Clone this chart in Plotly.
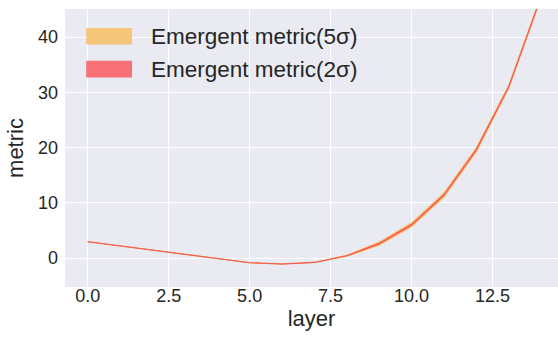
import plotly.graph_objects as go

layers = [0, 1, 2, 3, 4, 5, 6, 7, 8, 9, 10, 11, 12, 13, 14]
metric_mean = [2.95, 2.2, 1.45, 0.7, -0.1, -0.85, -1.1, -0.8, 0.4, 2.6, 6.0, 11.4, 19.6, 31.0, 47.3]
metric_sigma = [0.01, 0.01, 0.01, 0.01, 0.01, 0.01, 0.01, 0.01, 0.03, 0.07, 0.09, 0.1, 0.1, 0.08, 0.08]
band_labels = ["Emergent metric(5σ)", "Emergent metric(2σ)"]
band_k = [5, 2]
band_fill = ["rgba(247,186,80,0.7)", "rgba(250,80,80,0.6)"]
legend_fill = ["rgba(247,190,100,0.85)", "rgba(248,100,105,0.9)"]
x_ticks = [0, 2.5, 5, 7.5, 10, 12.5]
y_ticks = [0, 10, 20, 30, 40]

fig = go.Figure()
for lab, k, col in zip(band_labels, band_k, band_fill):
    upper = [m + k * s for m, s in zip(metric_mean, metric_sigma)]
    lower = [m - k * s for m, s in zip(metric_mean, metric_sigma)]
    fig.add_trace(go.Scatter(x=layers, y=upper, mode="lines",
                             line=dict(width=0.5, color=col), showlegend=False,
                             hoverinfo="skip"))
    fig.add_trace(go.Scatter(x=layers, y=lower, mode="lines", fill="tonexty",
                             fillcolor=col, line=dict(width=0.5, color=col),
                             name=lab, showlegend=False))
fig.add_trace(go.Scatter(x=layers, y=metric_mean, mode="lines",
                         line=dict(width=1.1, color="rgba(242,85,70,0.8)"),
                         showlegend=False))

# legend drawn as patches + text
for i, (lab, col) in enumerate(zip(band_labels, legend_fill)):
    y0 = 0.872 - i * 0.118
    fig.add_shape(type="rect", xref="paper", yref="paper",
                  x0=0.043, x1=0.136, y0=y0, y1=y0 + 0.06,
                  fillcolor=col, line=dict(width=0))
    fig.add_annotation(xref="paper", yref="paper", x=0.170, y=y0 + 0.03,
                       text=lab, showarrow=False, xanchor="left", yanchor="middle",
                       font=dict(size=22.5, color="#262626"))

fig.update_layout(
    width=558, height=337,
    margin=dict(l=65, r=0, t=9, b=50),
    paper_bgcolor="white", plot_bgcolor="#EAEAF2",
    font=dict(family="Liberation Sans, Arial, sans-serif", color="#262626"),
    showlegend=False,
)
fig.update_xaxes(range=[-0.7, 14.52], tickvals=x_ticks,
                 ticktext=[f"{v:.1f}" for v in x_ticks],
                 gridcolor="white", gridwidth=1.2, zeroline=False, showline=False,
                 tickfont=dict(size=18, color="#262626"),
                 ticklabelstandoff=-4,
                 title=dict(text="layer", font=dict(size=22, color="#262626"), standoff=2))
fig.update_yaxes(range=[-5.25, 45.07], tickvals=y_ticks,
                 gridcolor="white", gridwidth=1.2, zeroline=False, showline=False,
                 tickfont=dict(size=18, color="#262626"),
                 ticklabelstandoff=6,
                 title=dict(text="metric", font=dict(size=22, color="#262626"), standoff=8))

fig.write_html("out.html")
